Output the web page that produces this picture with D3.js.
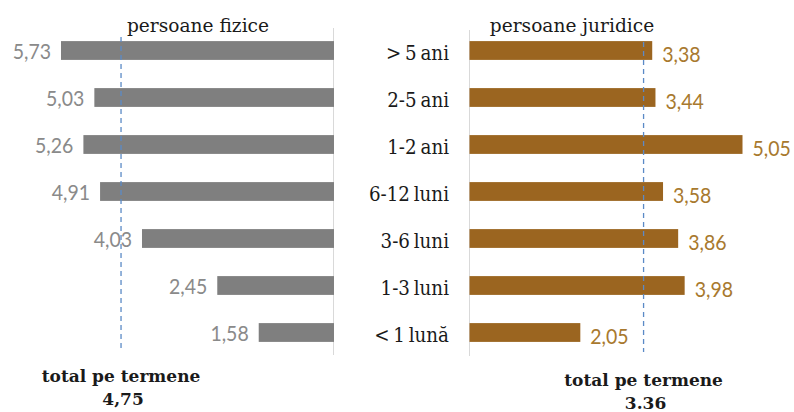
<!DOCTYPE html>
<html lang="ro">
  <head>
    <meta charset="UTF-8" />
    <title>persoane fizice / persoane juridice</title>
    <style>
      html,
      body {
        margin: 0;
        background: #fff;
      }
      text.serif {
        font-family: "DejaVu Serif", serif;
      }
      text.num {
        font-family: Lato, "Open Sans", sans-serif;
      }
    </style>
    <script src="https://cdn.jsdelivr.net/npm/d3@7"></script>
  </head>
  <body>
    <script>
      // date
      const categories = ["> 5 ani", "2-5 ani", "1-2 ani", "6-12 luni", "3-6 luni", "1-3 luni", "< 1 lună"];
      const fizice = [5.73, 5.03, 5.26, 4.91, 4.03, 2.45, 1.58];
      const juridice = [3.38, 3.44, 5.05, 3.58, 3.86, 3.98, 2.05];
      const titles = ["persoane fizice", "persoane juridice"];
      const totalLabels = ["4,75", "3.36"];
      // where the dashed lines sit in the original picture
      const lineAt = [4.47, 3.22];

      const width = 794;
      const height = 412;
      const stretch = 1.12;

      const svg = d3
        .select("body")
        .append("svg")
        .attr("width", width)
        .attr("height", height);

      // rânduri
      const y = d3
        .scaleBand()
        .domain(categories)
        .range([27, 356])
        .paddingInner(0.6)
        .paddingOuter(0.3);

      const fmt = (v) => d3.format(".2f")(v).replace(".", ",");

      // stânga: bare spre stânga
      const xL = d3.scaleLinear().domain([0, d3.max(fizice)]).range([334, 61]);
      // dreapta
      const xR = d3.scaleLinear().domain([0, d3.max(juridice)]).range([469.5, 742.5]);

      // axe verticale
      svg.append("line")
        .attr("x1", xL(0) - 0.5).attr("x2", xL(0) - 0.5)
        .attr("y1", 28).attr("y2", 355)
        .attr("stroke", "#d9d9d9");
      svg.append("line")
        .attr("x1", xR(0)).attr("x2", xR(0))
        .attr("y1", 30).attr("y2", 356)
        .attr("stroke", "#d9d9d9");

      // bare
      svg.selectAll(".barL")
        .data(fizice)
        .enter()
        .append("rect")
        .attr("class", "barL")
        .attr("x", (d) => xL(d))
        .attr("y", (d, i) => y(categories[i]))
        .attr("width", (d) => xL(0) - xL(d))
        .attr("height", y.bandwidth())
        .attr("fill", "#7f7f7f");

      svg.selectAll(".barR")
        .data(juridice)
        .enter()
        .append("rect")
        .attr("class", "barR")
        .attr("x", xR(0))
        .attr("y", (d, i) => y(categories[i]))
        .attr("width", (d) => xR(d) - xR(0))
        .attr("height", y.bandwidth())
        .attr("fill", "#9b6520");

      // linii punctate
      svg.append("line")
        .attr("x1", xL(lineAt[0])).attr("x2", xL(lineAt[0]))
        .attr("y1", 37).attr("y2", 348)
        .attr("stroke", "#5b8ac6")
        .attr("stroke-width", 1.3)
        .attr("stroke-dasharray", "5,4");
      svg.append("line")
        .attr("x1", xR(lineAt[1])).attr("x2", xR(lineAt[1]))
        .attr("y1", 42).attr("y2", 352)
        .attr("stroke", "#5b8ac6")
        .attr("stroke-width", 1.3)
        .attr("stroke-dasharray", "5,4");

      // valori
      svg.selectAll(".valL")
        .data(fizice)
        .enter()
        .append("text")
        .attr("class", "num")
        .attr("text-anchor", "end")
        .attr("font-size", 19.5)
        .attr("fill", "#8a8a8a")
        .attr("transform", (d, i) =>
          `translate(${xL(d) - 10}, ${y(categories[i]) + y.bandwidth() / 2 + 8})` +
          ` scale(1, ${stretch})`)
        .text(fmt);

      svg.selectAll(".valR")
        .data(juridice)
        .enter()
        .append("text")
        .attr("class", "num")
        .attr("font-size", 19.5)
        .attr("fill", "#a8792e")
        .attr("transform", (d, i) =>
          `translate(${xR(d) + 10}, ${y(categories[i]) + y.bandwidth() / 2 + 11})` +
          ` scale(1, ${stretch})`)
        .text(fmt);

      // categorii
      svg.selectAll(".cat")
        .data(categories)
        .enter()
        .append("text")
        .attr("class", "serif")
        .attr("text-anchor", "end")
        .attr("font-size", 18.3)
        .attr("word-spacing", -2)
        .attr("fill", "#1a1a1a")
        .attr("transform", (d) =>
          `translate(449, ${y(d) + y.bandwidth() / 2 + 9}) scale(1, ${stretch})`)
        .text((d) => d);

      // titluri
      svg.append("text")
        .attr("class", "serif")
        .attr("x", 198)
        .attr("y", 32)
        .attr("text-anchor", "middle")
        .attr("font-size", 18.6)
        .attr("fill", "#1a1a1a")
        .text(titles[0]);
      svg.append("text")
        .attr("class", "serif")
        .attr("x", 572)
        .attr("y", 32)
        .attr("text-anchor", "middle")
        .attr("font-size", 18.6)
        .attr("fill", "#1a1a1a")
        .text(titles[1]);

      // total pe termene
      const totals = [
        { x: xL(lineAt[0]), y: 382, label: totalLabels[0] },
        { x: xR(lineAt[1]), y: 386, label: totalLabels[1] },
      ];
      totals.forEach((t) => {
        const g = svg.append("text")
          .attr("class", "serif")
          .attr("text-anchor", "middle")
          .attr("font-size", 17)
          .attr("font-weight", "bold")
          .attr("fill", "#1a1a1a");
        g.append("tspan").attr("x", t.x).attr("y", t.y).text("total pe termene");
        g.append("tspan").attr("x", t.x + 2).attr("y", t.y + 22.5).text(t.label);
      });
    </script>
  </body>
</html>
